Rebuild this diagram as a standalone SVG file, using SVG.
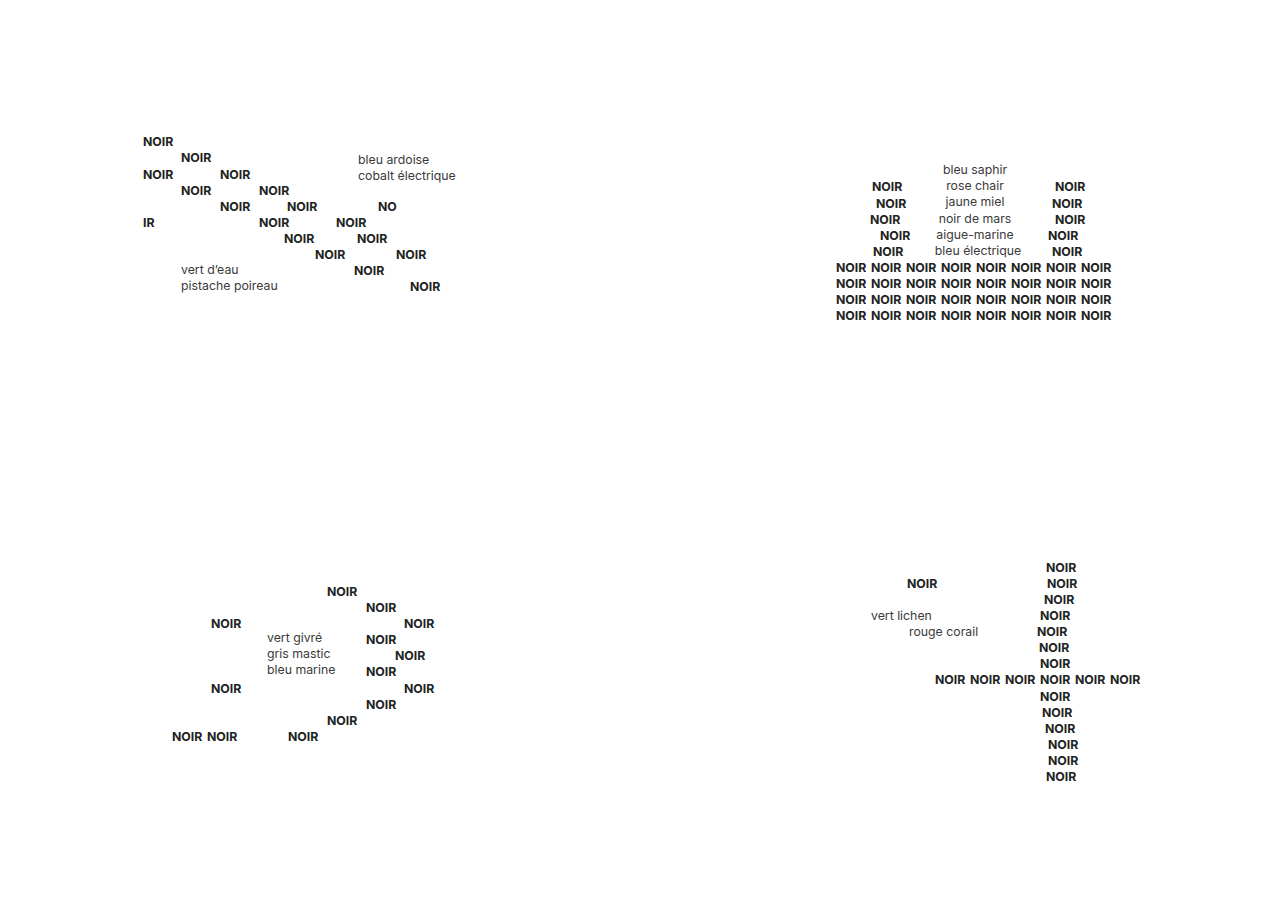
<svg xmlns="http://www.w3.org/2000/svg" width="1278" height="905" viewBox="0 0 1278 905">
<style>
.n{font-family:Inter,"Liberation Sans",sans-serif;font-size:12.3px;font-weight:700;fill:#222}
.l{font-family:Inter,"Liberation Sans",sans-serif;font-size:12.3px;font-weight:400;fill:#3a3a3a}
.c{text-anchor:middle}
</style>
<rect width="1278" height="905" fill="#fff"/>
<g id="top-left">
<text class="n" x="143" y="146">NOIR</text>
<text class="n" x="181" y="162">NOIR</text>
<text class="l" x="358" y="163.5">bleu ardoise</text>
<text class="n" x="143" y="179">NOIR</text>
<text class="n" x="220" y="179">NOIR</text>
<text class="l" x="358" y="179.5">cobalt électrique</text>
<text class="n" x="181" y="195">NOIR</text>
<text class="n" x="259" y="195">NOIR</text>
<text class="n" x="220" y="211">NOIR</text>
<text class="n" x="287" y="211">NOIR</text>
<text class="n" x="378" y="211">NO</text>
<text class="n" x="143" y="227">IR</text>
<text class="n" x="259" y="227">NOIR</text>
<text class="n" x="336" y="227">NOIR</text>
<text class="n" x="284" y="243">NOIR</text>
<text class="n" x="357" y="243">NOIR</text>
<text class="n" x="315" y="259">NOIR</text>
<text class="n" x="396" y="259">NOIR</text>
<text class="l" x="181" y="273.5">vert d’eau</text>
<text class="n" x="354" y="275">NOIR</text>
<text class="l" x="181" y="289.5">pistache poireau</text>
<text class="n" x="410" y="291">NOIR</text>
</g>
<g id="top-right">
<text class="l c" x="975" y="173.5">bleu saphir</text>
<text class="n" x="872" y="191">NOIR</text>
<text class="l c" x="975" y="189.5">rose chair</text>
<text class="n" x="1055" y="191">NOIR</text>
<text class="n" x="876" y="208">NOIR</text>
<text class="l c" x="975" y="205.5">jaune miel</text>
<text class="n" x="1052" y="208">NOIR</text>
<text class="n" x="870" y="224">NOIR</text>
<text class="l c" x="975" y="222.5">noir de mars</text>
<text class="n" x="1055" y="224">NOIR</text>
<text class="n" x="880" y="240">NOIR</text>
<text class="l c" x="975" y="238.5">aigue-marine</text>
<text class="n" x="1048" y="240">NOIR</text>
<text class="n" x="873" y="256">NOIR</text>
<text class="l c" x="978" y="254.5">bleu électrique</text>
<text class="n" x="1052" y="256">NOIR</text>
<g id="grid">
<text class="n" y="272"><tspan x="836">NOIR</tspan><tspan x="871">NOIR</tspan><tspan x="906">NOIR</tspan><tspan x="941">NOIR</tspan><tspan x="976">NOIR</tspan><tspan x="1011">NOIR</tspan><tspan x="1046">NOIR</tspan><tspan x="1081">NOIR</tspan></text>
<text class="n" y="288"><tspan x="836">NOIR</tspan><tspan x="871">NOIR</tspan><tspan x="906">NOIR</tspan><tspan x="941">NOIR</tspan><tspan x="976">NOIR</tspan><tspan x="1011">NOIR</tspan><tspan x="1046">NOIR</tspan><tspan x="1081">NOIR</tspan></text>
<text class="n" y="304"><tspan x="836">NOIR</tspan><tspan x="871">NOIR</tspan><tspan x="906">NOIR</tspan><tspan x="941">NOIR</tspan><tspan x="976">NOIR</tspan><tspan x="1011">NOIR</tspan><tspan x="1046">NOIR</tspan><tspan x="1081">NOIR</tspan></text>
<text class="n" y="320"><tspan x="836">NOIR</tspan><tspan x="871">NOIR</tspan><tspan x="906">NOIR</tspan><tspan x="941">NOIR</tspan><tspan x="976">NOIR</tspan><tspan x="1011">NOIR</tspan><tspan x="1046">NOIR</tspan><tspan x="1081">NOIR</tspan></text>
</g>
</g>
<g id="bottom-left">
<text class="n" x="327" y="596">NOIR</text>
<text class="n" x="366" y="612">NOIR</text>
<text class="n" x="211" y="628">NOIR</text>
<text class="n" x="404" y="628">NOIR</text>
<text class="l" x="267" y="641.5">vert givré</text>
<text class="n" x="366" y="644">NOIR</text>
<text class="l" x="267" y="657.5">gris mastic</text>
<text class="n" x="395" y="660">NOIR</text>
<text class="l" x="267" y="673.5">bleu marine</text>
<text class="n" x="366" y="676">NOIR</text>
<text class="n" x="211" y="693">NOIR</text>
<text class="n" x="404" y="693">NOIR</text>
<text class="n" x="366" y="709">NOIR</text>
<text class="n" x="327" y="725">NOIR</text>
<text class="n" x="172" y="741">NOIR</text>
<text class="n" x="207" y="741">NOIR</text>
<text class="n" x="288" y="741">NOIR</text>
</g>
<g id="bottom-right">
<text class="n" x="1046" y="572">NOIR</text>
<text class="n" x="907" y="588">NOIR</text>
<text class="n" x="1047" y="588">NOIR</text>
<text class="n" x="1044" y="604">NOIR</text>
<text class="l" x="871" y="619.5">vert lichen</text>
<text class="n" x="1040" y="620">NOIR</text>
<text class="l" x="909" y="635.5">rouge corail</text>
<text class="n" x="1037" y="636">NOIR</text>
<text class="n" x="1039" y="652">NOIR</text>
<text class="n" x="1040" y="668">NOIR</text>
<text class="n" y="684"><tspan x="935">NOIR</tspan><tspan x="970">NOIR</tspan><tspan x="1005">NOIR</tspan><tspan x="1040">NOIR</tspan><tspan x="1075">NOIR</tspan><tspan x="1110">NOIR</tspan></text>
<text class="n" x="1040" y="701">NOIR</text>
<text class="n" x="1042" y="717">NOIR</text>
<text class="n" x="1045" y="733">NOIR</text>
<text class="n" x="1048" y="749">NOIR</text>
<text class="n" x="1048" y="765">NOIR</text>
<text class="n" x="1046" y="781">NOIR</text>
</g>
</svg>
